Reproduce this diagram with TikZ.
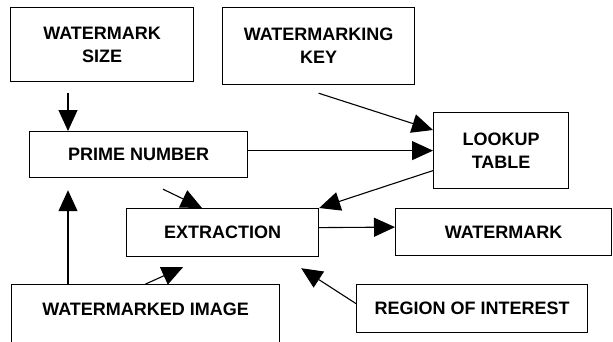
\documentclass[tikz,border=0pt]{standalone}
\usepackage{fontspec}
\setmainfont{Liberation Sans}
\usetikzlibrary{arrows.meta}
\begin{document}
\begin{tikzpicture}[x=1pt,y=-1pt,
  box/.style={draw,line width=1.2pt,fill=white,inner sep=0pt,anchor=north west,align=center,
    font=\bfseries\fontsize{18}{23}\selectfont},
  arr/.style={line width=1.1pt,-{Triangle[length=21pt,width=19pt]}}]
\useasboundingbox (0,0) rectangle (613,341);
\clip (0,0) rectangle (613,341);
\node[box,minimum width=183pt,minimum height=74pt] (size) at (10,7) {WATERMARK\\SIZE};
\node[box,minimum width=192pt,minimum height=77pt] (key) at (222,7) {WATERMARKING\\KEY};
\node[box,minimum width=218pt,minimum height=46pt] (prime) at (29,131) {PRIME NUMBER};
\node[box,minimum width=135pt,minimum height=76pt] (lookup) at (433,112) {LOOKUP\\TABLE};
\node[box,minimum width=192pt,minimum height=48pt] (extraction) at (126,208) {EXTRACTION};
\node[box,minimum width=216pt,minimum height=47pt] (wm) at (395,208) {WATERMARK};
\node[box,minimum width=231pt,minimum height=48pt] (roi) at (356,284) {REGION OF INTEREST};
\node[box,minimum width=268pt,text height=31pt,text depth=50pt] (image) at (11,284) {WATERMARKED IMAGE};
% connectors
\draw[arr] ([xshift=58pt,yshift=-11pt]size.south west) -- ([xshift=39pt]prime.north west);
\draw[arr] ([yshift=-8pt]key.south) -- ([yshift=-18pt]lookup.north west);
\draw[arr] (prime.east |- lookup.west) -- (lookup.west);
\draw[arr] ([yshift=-20pt]lookup.west) -- (extraction.north east);
\draw[arr] ([xshift=134pt,yshift=-11pt]prime.south west) -- ([xshift=76pt]extraction.north west);
\draw[arr] ([xshift=57pt]image.north west) -- ([xshift=39pt,yshift=-12pt]prime.south west);
\draw[arr] (image.north) -- ([xshift=57pt,yshift=-10pt]extraction.south west);
\draw[arr] ([yshift=5pt]extraction.east) -- ([yshift=5pt]wm.west);
\draw[arr] ([yshift=5pt]roi.west) -- ([xshift=-18pt,yshift=-11pt]extraction.south east);
\end{tikzpicture}
\end{document}
